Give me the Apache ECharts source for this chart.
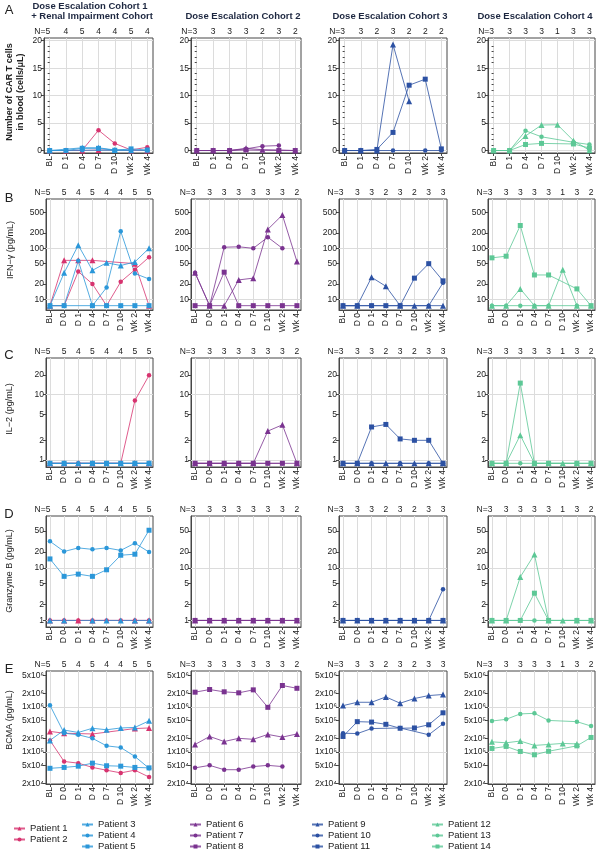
<!DOCTYPE html>
<html><head><meta charset="utf-8">
<script src="https://cdn.jsdelivr.net/npm/echarts@6/dist/echarts.min.js"></script>
<style>html,body{margin:0;padding:0;background:#fff}#c{width:602px;height:852px}</style>
</head><body><div id="c"></div>
<script>
// ---------- DATA ----------
const catsA = ['BL','D 1','D 4','D 7','D 10','Wk 2','Wk 4'];
const catsB = ['BL','D 0','D 1','D 4','D 7','D 10','Wk 2','Wk 4'];
const patients = ['Patient 1','Patient 2','Patient 3','Patient 4','Patient 5','Patient 6','Patient 7',
  'Patient 8','Patient 9','Patient 10','Patient 11','Patient 12','Patient 13','Patient 14'];
const cohortTitles = [['Dose Escalation Cohort 1','+ Renal Impairment Cohort'],['Dose Escalation Cohort 2'],['Dose Escalation Cohort 3'],['Dose Escalation Cohort 4']];
const rowTitles = ['Number of CAR T cells\nin blood (cells/\u03bcL)','IFN\u2212\u03b3 (pg/mL)','IL\u22122 (pg/mL)','Granzyme B (pg/mL)','BCMA (pg/mL)'];
const rowLetters = ['A','B','C','D','E'];

// CAR T cells (cells/uL), categories catsA
const carT = [
  [0, 0, 0, 0.1, null, 0, 0],
  [0, 0, 0.05, 3.7, 1.3, 0.1, 0.6],
  [0, null, 0.5, 0.5, 0.1, 0.05, null],
  [0, 0, 0.05, null, 0.05, 0.05, 0],
  [0, 0, 0.4, 0.4, 0.05, 0.3, 0.1],
  [0, 0, 0, 0.4, 0.15, 0.1, 0],
  [0, 0, 0, 0.3, 0.8, 0.9, null],
  [0, 0, 0, 0.1, null, 0, 0],
  [0, 0, 0, 19.3, 9.0, null, null],
  [0, 0, null, 0, null, 0, 0],
  [0, 0, 0.2, 3.3, 11.9, 13.0, 0.3],
  [0, 0, 2.65, 4.65, 4.7, 1.8, 0.05],
  [0, 0, 3.6, 2.5, null, 1.5, 1.1],
  [0, 0, 1.1, 1.3, null, 1.2, 0.45]
];
// IFN-gamma (pg/mL), catsB
const ifng = [
  [7.5, 58, 58, 58, null, null, 50, 7.5],
  [7.5, 7.5, 35, 20, 7.5, 22, 38, 67],
  [7.5, 33, 115, 37, 52, 46, 54, 100],
  [7.5, 7.5, 57, 7.5, 17, 215, 32, 25],
  [7.5, 7.5, null, 7.5, 7.5, 7.5, 7.5, 7.5],
  [33, 7.5, 7.5, 24, 26, 235, 450, 55],
  [33, 7.5, 105, 107, 100, 165, 100, null],
  [7.5, 7.5, 34, 7.5, 7.5, 7.5, 7.5, 7.5],
  [7.5, 7.5, 27, 18, 7.5, 7.5, 7.5, 7.5],
  [7.5, 7.5, 7.5, null, 7.5, null, 7.5, 21],
  [7.5, 7.5, 7.5, 7.5, 7.5, 26, 50, 23],
  [7.5, 7.5, 16, 7.5, 7.5, 38, 7.5, 7.5],
  [7.5, 7.5, 7.5, 7.5, 7.5, null, 7.5, null],
  [65, 70, 280, 30, 30, null, 16, 7.5]
];
// IL-2 (pg/mL), catsB
const il2 = [
  [0.89, 0.89, 0.89, 0.89, null, null, 0.89, 0.89],
  [0.89, 0.89, 0.89, 0.89, 0.89, 0.89, 8.1, 19.7],
  [0.89, 0.89, 0.89, 0.89, 0.89, 0.89, 0.89, 0.89],
  [0.89, 0.89, 0.89, 0.89, 0.89, 0.89, 0.89, 0.89],
  [0.89, 0.89, null, 0.89, 0.89, 0.89, 0.89, 0.89],
  [0.89, 0.89, 0.89, 0.89, 0.89, 2.77, 3.45, 0.89],
  [0.89, 0.89, 0.89, 0.89, 0.89, 0.89, 0.89, null],
  [0.89, 0.89, 0.89, 0.89, 0.89, 0.89, 0.89, 0.89],
  [0.89, 0.89, 0.89, 0.89, 0.89, 0.89, 0.89, 0.89],
  [0.89, 0.89, 0.89, null, 0.89, null, 0.89, 0.89],
  [0.89, 0.89, 3.2, 3.5, 2.1, 2.0, 2.0, 0.89],
  [0.89, 0.89, 2.4, 0.89, 0.89, 0.89, 0.89, 0.89],
  [0.89, 0.89, 0.89, 0.89, 0.89, null, 0.89, null],
  [0.89, 0.89, 15, 0.89, 0.89, null, 0.89, 0.89]
];
// Granzyme B (pg/mL), catsB
const gzmb = [
  [1, 1, 1, 1, null, null, 1, 1],
  [1, 1, 1, 1, 1, 1, 1, 1],
  [1, 1, null, 1, 1, 1, 1, 1],
  [32, 20.5, 24, 22.5, 24, 21.5, 29.5, 20],
  [14.8, 6.9, 7.6, 6.9, 9.2, 17.4, 18.2, 52],
  [1, 1, 1, 1, 1, 1, 1, 1],
  [1, 1, 1, 1, 1, 1, 1, null],
  [1, 1, 1, 1, 1, 1, 1, 1],
  [1, 1, 1, 1, 1, 1, 1, 1],
  [1, 1, 1, null, 1, null, 1, 3.9],
  [1, 1, 1, 1, 1, 1, 1, 1],
  [1, 1, 6.7, 18, 1, 1, 1, 1],
  [1, 1, 1, 1, 1, null, 1, null],
  [1, 1, 1, 3.3, 1, null, 1, 1]
];
// BCMA (pg/mL), catsB
const bcma = [
  [2.85e5, 2.6e5, null, 2.5e5, null, null, 3.3e5, 3.4e5],
  [1.8e5, 6.1e4, 5.6e4, 4.5e4, 3.9e4, 3.4e4, 3.9e4, 2.75e4],
  [1.8e5, 3.05e5, 2.7e5, 3.35e5, 3.1e5, 3.4e5, 3.5e5, 4.9e5],
  [1.09e6, 2.6e5, 2.4e5, 2.0e5, 1.36e5, 1.25e5, 7.9e4, 4.3e4],
  [4.3e4, 4.5e4, 4.8e4, 5.6e4, 4.9e4, 4.8e4, 4.5e4, 4.4e4],
  [1.46e5, 2.2e5, 1.7e5, 2.0e5, 1.9e5, 2.44e5, 2.13e5, 2.5e5],
  [4.4e4, 5.0e4, 4.0e4, 4.0e4, 4.7e4, 5.0e4, 4.7e4, null],
  [2.13e6, 2.44e6, 2.17e6, 2.06e6, 2.4e6, 0.98e6, 3.0e6, 2.6e6],
  [1.07e6, 1.27e6, 1.27e6, 1.67e6, 1.21e6, 1.54e6, 1.79e6, 1.89e6],
  [2.6e5, 2.55e5, 3.3e5, null, 3.4e5, null, 2.4e5, 4.2e5],
  [2.2e5, 4.7e5, 4.6e5, 4.1e5, 3.35e5, 3.4e5, 4.0e5, 7.4e5],
  [1.67e5, 1.59e5, 1.74e5, 1.39e5, 1.46e5, 1.54e5, 1.5e5, null],
  [4.85e5, 5.3e5, 7.0e5, 7.2e5, 5.0e5, null, 4.7e5, 3.75e5],
  [1.19e5, 1.32e5, 1.02e5, 8.6e4, 1.03e5, null, 1.36e5, 2.09e5]
];
// N per timepoint, per cohort column
const nCarT = [[5,4,5,4,4,5,4],[3,3,3,3,2,3,2],[3,3,2,3,2,2,2],[3,3,3,3,1,3,3]];
const nIfng = [[5,5,4,5,4,4,5,5],[3,3,3,3,3,3,3,2],[3,3,3,2,3,2,3,3],[3,3,3,3,3,1,3,2]];
const nIl2  = [[5,5,4,5,4,4,5,5],[3,3,3,3,3,3,3,2],[3,3,3,2,3,2,3,3],[3,3,3,3,3,1,3,2]];
const nGzmb = [[5,5,4,5,4,4,5,5],[3,3,3,3,3,3,3,2],[3,3,3,2,3,2,3,3],[3,3,3,3,3,1,3,2]];
const nBcma = [[5,5,4,5,4,4,5,5],[3,3,3,3,3,3,3,2],[3,3,3,2,3,2,3,3],[3,3,3,3,3,1,3,2]];
// tick labels
const ticksCarT = [0,5,10,15,20];
const minorCarT = [1,2,3,4,6,7,8,9,11,12,13,14,16,17,18,19];
const ticksIfng = [10,20,50,100,200,500];
const ticksIl2  = [1,2,5,10,20];
const ticksGzmb = [1,2,5,10,20,50];
const ticksBcma = [2e4,5e4,1e5,2e5,5e5,1e6,2e6,5e6];
// reference (grid) lines on the log panels
const gridIfng = [10,100];
const gridIl2  = [1,10];
const gridGzmb = [1,10];
const gridBcma = [1e5,1e6];

// ---------- STYLE / LAYOUT ----------
const patientCol = [0,0,1,1,1,2,2,2,3,3,3,4,4,4];   // colour group
const panelCol   = [0,0,0,0,0,1,1,1,2,2,2,3,3,3];   // panel column
const symbolOf   = ['triangle','circle','triangle','circle','rect','triangle','circle','rect','triangle','circle','rect','triangle','circle','rect'];
const symSize    = {triangle:6, circle:4.5, rect:5};
const groupColors = ['#d7336f','#2b97d9','#7a3390','#2c51a3','#5dc896'];
const FONT = "'Liberation Sans', Arial, Helvetica, sans-serif";
const TXT = '#222';
const GRIDC = '#dcdcdc';

const rows = [
  {vals: carT, n: nCarT, cats: catsA, ticks: ticksCarT, log:false, top:38, bottom:153, ymin:-0.45, ymax:20.5, pad:0.35, c1left:44, gl:null, minor:minorCarT},
  {vals: ifng, n: nIfng, cats: catsB, ticks: ticksIfng, log:true, top:199, bottom:310, ymin:0.79, ymax:2.967, pad:0.28, c1left:46, gl:gridIfng},
  {vals: il2,  n: nIl2,  cats: catsB, ticks: ticksIl2,  log:true, top:358, bottom:467, ymin:-0.107, ymax:1.56, pad:0.28, c1left:46, gl:gridIl2},
  {vals: gzmb, n: nGzmb, cats: catsB, ticks: ticksGzmb, log:true, top:516, bottom:627, ymin:-0.125, ymax:1.987, pad:0.28, c1left:46, gl:gridGzmb},
  {vals: bcma, n: nBcma, cats: catsB, ticks: ticksBcma, log:true, top:671, bottom:784, ymin:4.284, ymax:6.8, pad:0.28, c1left:46, gl:gridBcma, sci:true}
];
const colLeft = [null,191,339,488];
const colRight = [153,301,447,595];

const SUP = {'0':'\u2070','1':'\u00b9','2':'\u00b2','3':'\u00b3','4':'\u2074','5':'\u2075','6':'\u2076','7':'\u2077','8':'\u2078','9':'\u2079'};
function fmtLog(v, sci){
  const e = Math.floor(v + 1e-9);
  if (sci) {
    const m = Math.round(Math.pow(10, v - e));
    return m + 'x10' + String(e).split('').map(d => SUP[d]).join('');
  }
  return String(Number(Math.pow(10, v).toPrecision(3)));
}

const grids = [], xAxes = [], yAxes = [], series = [];
rows.forEach((R, r) => {
  for (let c = 0; c < 4; c++) {
    const g = r*4 + c;
    const left = c === 0 ? R.c1left : colLeft[c];
    grids.push({left: left, top: R.top, width: colRight[c]-left, height: R.bottom-R.top,
      show: true, borderColor: '#474747', borderWidth: 1, backgroundColor: 'transparent', outerBoundsMode: 'none', containLabel: false});
    const nc = R.cats.length;
    const idx = R.cats.map((_, i) => i);
    // bottom category axis (positions by index)
    xAxes.push({type:'value', gridIndex:g, position:'bottom', min:-R.pad, max:nc-1+R.pad,
      axisLine:{show:true, onZero:false, lineStyle:{color:'#474747', width:1}},
      axisTick:{show:true, customValues: idx, length:3, lineStyle:{color:'#474747'}},
      axisLabel:{show:true, customValues: idx, rotate:90, margin:3, fontSize:8.5, fontFamily:FONT, color:TXT,
        formatter: (v) => R.cats[Math.round(v)]},
      splitLine:{show:true, lineStyle:{color:GRIDC, width:1}}});
    // top axis carrying the N counts
    const nArr = R.n[c];
    xAxes.push({type:'value', gridIndex:g, position:'top', min:-R.pad, max:nc-1+R.pad,
      axisLine:{show:false}, axisTick:{show:false}, splitLine:{show:false},
      axisLabel:{show:true, customValues: idx, margin:2, fontSize:8.5, fontFamily:FONT, color:TXT,
        formatter: (v) => { const i = Math.round(v); return i === 0 ? '{p|N=}' + nArr[i] + '{q|}' : String(nArr[i]); },
        rich:{p:{fontSize:8.5, fontFamily:FONT, color:TXT}, q:{width:15}}}});
    // main y axis
    const tickVals = R.log ? R.ticks.map(t => Math.log10(t)) : R.ticks;
    const mainIdx = yAxes.length;
    yAxes.push({type:'value', gridIndex:g, position:'left', min:R.ymin, max:R.ymax,
      axisLine:{show:true, onZero:false, lineStyle:{color:'#474747', width:1}},
      axisTick:{show:true, customValues: tickVals, length:3, lineStyle:{color:'#474747'}},
      axisLabel:{show:true, customValues: tickVals, margin:2, fontSize:8.5, fontFamily:FONT, color:TXT,
        formatter: (v) => R.log ? fmtLog(v, R.sci) : String(Math.round(v))},
      splitLine:{show: !R.log, lineStyle:{color:GRIDC, width:1}}});
    if (R.minor) {
      yAxes.push({type:'value', gridIndex:g, position:'left', min:R.ymin, max:R.ymax,
        axisLine:{show:false}, axisTick:{show:true, customValues: R.minor, length:2, lineStyle:{color:'#474747'}},
        axisLabel:{show:false, customValues: R.minor}, splitLine:{show:false}});
    }
    // series for patients in this column
    let first = true;
    patients.forEach((name, p) => {
      if (panelCol[p] !== c) return;
      const col = groupColors[patientCol[p]];
      const data = [];
      R.vals[p].forEach((v, i) => { if (v !== null) data.push([i, R.log ? Math.log10(v) : v]); });
      const s = {type:'line', name: name, xAxisIndex: g*2, yAxisIndex: mainIdx, data: data,
        symbol: symbolOf[p], symbolSize: symSize[symbolOf[p]], showSymbol: true,
        itemStyle:{color: col}, lineStyle:{color: col, width: 1, opacity: 0.8},
        emphasis:{disabled:true}, silent:true, animation:false, clip:false, z: 3};
      if (first && R.gl) {
        s.markLine = {silent:true, symbol:['none','none'], z:1, animation:false,
          label:{show:false}, emphasis:{disabled:true},
          lineStyle:{color:GRIDC, type:'solid', width:1},
          data: R.gl.map(v => ({yAxis: Math.log10(v)}))};
      }
      first = false;
      series.push(s);
    });
  }
});

// ---------- TEXT (graphic) ----------
const graphic = [];
const letterY = [10, 198, 355, 514, 669];
rowLetters.forEach((L, r) => graphic.push({type:'text', x:9, y:letterY[r],
  style:{text:L, fontSize:13, fontFamily:FONT, fill:TXT, textAlign:'center', textVerticalAlign:'middle'}}));
const rowTitlePos = [[15, 92], [11, 250], [10, 409], [10, 571], [10, 720]];
rowTitles.forEach((t, r) => graphic.push({type:'text', x:rowTitlePos[r][0], y:rowTitlePos[r][1], rotation: Math.PI/2,
  style:{text:t, fontSize:9, fontWeight: r === 0 ? 'bold' : 'normal', lineHeight: 11, fontFamily:FONT, fill:TXT, textAlign:'center', textVerticalAlign:'middle'}}));
const titleX = [92, 243, 390, 535];
cohortTitles.forEach((lines, c) => {
  if (lines.length === 2) {
    graphic.push({type:'text', x:titleX[c]-2, y:6.5, style:{text:lines[0], fontSize:9.5, fontWeight:'bold', fontFamily:FONT, fill:'#1d2740', textAlign:'center', textVerticalAlign:'middle'}});
    graphic.push({type:'text', x:titleX[c], y:16.5, style:{text:lines[1], fontSize:9.5, fontWeight:'bold', fontFamily:FONT, fill:'#1d2740', textAlign:'center', textVerticalAlign:'middle'}});
  } else {
    graphic.push({type:'text', x:titleX[c], y:16.5, style:{text:lines[0], fontSize:9.5, fontWeight:'bold', fontFamily:FONT, fill:'#1d2740', textAlign:'center', textVerticalAlign:'middle'}});
  }
});

// ---------- LEGEND ----------
const legendGroups = [[0,1],[2,3,4],[5,6,7],[8,9,10],[11,12,13]];
const legendLeft = [13, 81, 189, 311, 431];
const legendTop = [823, 819, 819, 819, 819];
const legends = legendGroups.map((grp, k) => ({
  orient:'vertical', left: legendLeft[k], top: legendTop[k], itemGap: 0, itemWidth: 11, itemHeight: 5,
  padding: 0, selectedMode: false,
  data: grp.map(p => patients[p]),
  textStyle:{fontSize:9.5, fontFamily:FONT, color:TXT, lineHeight:11, padding:[0,0,0,0]}
}));

const chart = echarts.init(document.getElementById('c'), null, {renderer:'canvas'});
chart.setOption({
  animation:false,
  backgroundColor:'#fff',
  textStyle:{fontFamily:FONT},
  grid: grids, xAxis: xAxes, yAxis: yAxes, series: series,
  legend: legends, graphic: graphic
});
</script></body></html>
